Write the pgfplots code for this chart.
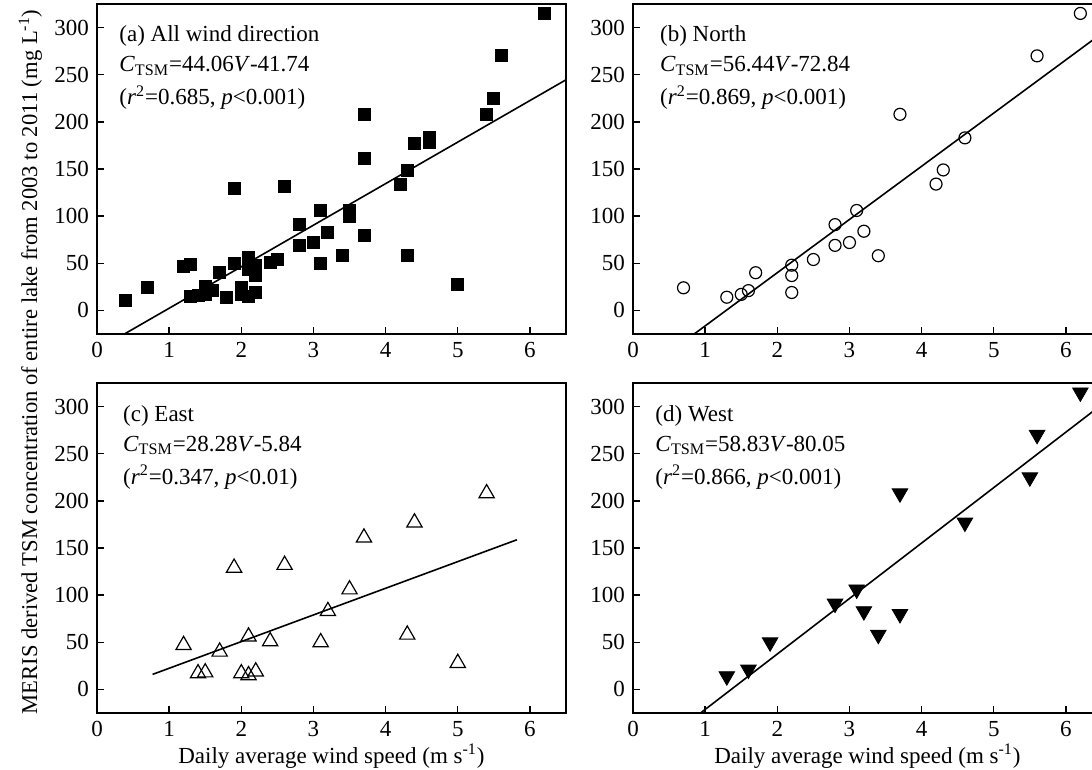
\documentclass[border=0pt]{standalone}
\usepackage{fontspec}
\setmainfont{Liberation Serif}
\usepackage{pgfplots}
\pgfplotsset{compat=1.18}

\pgfplotsset{
  windax/.style={
    scale only axis, width=234.5pt, height=165pt,
    xmin=0, xmax=6.5, ymin=-25, ymax=325,
    xtick={0,1,...,6}, ytick={0,50,...,300},
    xtick pos=bottom, ytick pos=left, tick align=inside,
    major tick length=3.5pt,
    axis line style={line width=0.8pt},
    every tick/.style={black, line width=0.7pt},
    /pgf/number format/assume math mode=true,
    tick label style={font=\fontsize{11.5}{13}\selectfont},
  },
  regline/.style={black, line width=0.8pt, no marks},
}
\tikzset{txt/.style={anchor=base west, inner sep=0pt, font=\fontsize{11.5}{13}\selectfont}}
\newcommand{\ctsm}{\textit{C}\textsubscript{TSM}}

\begin{document}
\fontsize{11.5}{13}\selectfont
\begin{tikzpicture}

% (a) all directions
\begin{axis}[windax, at={(48.5pt,-2pt)}, anchor=north west, name=a]
\addplot[only marks, mark=square*, mark size=3pt, black] coordinates {
(0.4,11) (0.7,24) (1.2,47) (1.3,49) (1.3,15) (1.4,16) (1.5,25) (1.5,17)
(1.6,21) (1.7,40) (1.8,14) (1.9,129) (1.9,50) (2.0,24) (2.0,17) (2.1,56)
(2.1,44) (2.1,15) (2.2,48) (2.2,37) (2.2,19) (2.4,51) (2.5,54) (2.6,132)
(2.8,91) (2.8,69) (3.0,72) (3.1,106) (3.1,50) (3.2,83) (3.4,58) (3.5,106)
(3.5,100) (3.7,208) (3.7,161) (3.7,80) (4.2,134) (4.3,149) (4.3,58) (4.4,177)
(4.6,183) (4.6,178) (5.0,28) (5.4,208) (5.5,225) (5.6,270) (6.2,315)};
\addplot[regline] coordinates {(0.38,-25) (6.5,244.6)};
\node[txt] at (rel axis cs:0.047,1) [yshift=-19pt] {(a) All wind direction};
\node[txt] at (rel axis cs:0.047,1) [yshift=-34pt] {\ctsm=44.06\textit{V}-41.74};
\node[txt] at (rel axis cs:0.047,1) [yshift=-50.5pt] {(\textit{r}\textsuperscript{2}=0.685, \textit{p}<0.001)};
\end{axis}

% (b) north
\begin{axis}[windax, at={(316.5pt,-2pt)}, anchor=north west, name=b]
\addplot[only marks, mark=o, mark size=3pt, black, line width=0.6pt] coordinates {
(0.7,24) (1.3,14) (1.5,17) (1.6,21) (1.7,40) (2.2,48) (2.2,37) (2.2,19)
(2.5,54) (2.8,91) (2.8,69) (3.0,72) (3.1,106) (3.2,84) (3.4,58) (3.7,208)
(4.2,134) (4.3,149) (4.6,183) (5.6,270) (6.2,315)};
\addplot[regline] coordinates {(0.848,-25) (6.5,294.0)};
\node[txt] at (rel axis cs:0.057,1) [yshift=-19pt] {(b) North};
\node[txt] at (rel axis cs:0.057,1) [yshift=-34pt] {\ctsm=56.44\textit{V}-72.84};
\node[txt] at (rel axis cs:0.057,1) [yshift=-50.5pt] {(\textit{r}\textsuperscript{2}=0.869, \textit{p}<0.001)};
\end{axis}

% (c) east
\begin{axis}[windax, at={(48.5pt,-191.5pt)}, anchor=north west, name=c]
\addplot[only marks, mark=triangle, mark size=4.4pt, black, line width=0.6pt] coordinates {
(1.2,47) (1.4,17) (1.5,18) (1.7,40) (1.9,129) (2.0,17) (2.1,56) (2.1,15)
(2.2,19) (2.4,51) (2.6,132) (3.1,50) (3.2,83) (3.5,106) (3.7,161) (4.3,58)
(4.4,177) (5.0,28) (5.4,208)};
\addplot[regline] coordinates {(0.77,15.94) (5.82,158.75)};
\node[txt] at (rel axis cs:0.055,1) [yshift=-19pt] {(c) East};
\node[txt] at (rel axis cs:0.055,1) [yshift=-34pt] {\ctsm=28.28\textit{V}-5.84};
\node[txt] at (rel axis cs:0.055,1) [yshift=-50.5pt] {(\textit{r}\textsuperscript{2}=0.347, \textit{p}<0.01)};
\end{axis}

% (d) west
\begin{axis}[windax, at={(316.5pt,-191.5pt)}, anchor=north west, name=d]
\addplot[only marks, mark=triangle*, mark size=4.5pt, black,
  every mark/.append style={rotate=180}] coordinates {
(1.3,14) (1.6,21) (1.9,50) (2.8,91) (3.1,106) (3.2,83) (3.4,58) (3.7,208)
(3.7,80) (4.6,177) (5.5,225) (5.6,270) (6.2,315)};
\addplot[regline] coordinates {(0.936,-25) (6.5,302.3)};
\node[txt] at (rel axis cs:0.047,1) [yshift=-19pt] {(d) West};
\node[txt] at (rel axis cs:0.047,1) [yshift=-34pt] {\ctsm=58.83\textit{V}-80.05};
\node[txt] at (rel axis cs:0.047,1) [yshift=-50.5pt] {(\textit{r}\textsuperscript{2}=0.866, \textit{p}<0.001)};
\end{axis}

\node[anchor=base] at ([yshift=-25pt]c.south) {Daily average wind speed (m s\textsuperscript{-1})};
\node[anchor=base] at ([yshift=-25pt]d.south) {Daily average wind speed (m s\textsuperscript{-1})};

\node[rotate=90, anchor=base, font=\fontsize{11.3}{13}\selectfont] at (18.5pt,-181pt)
  {MERIS derived TSM concentration of entire lake from 2003 to 2011 (mg L\textsuperscript{-1})};

\pgfresetboundingbox
\useasboundingbox (0,0) rectangle (546pt,-385pt);
\end{tikzpicture}
\end{document}
